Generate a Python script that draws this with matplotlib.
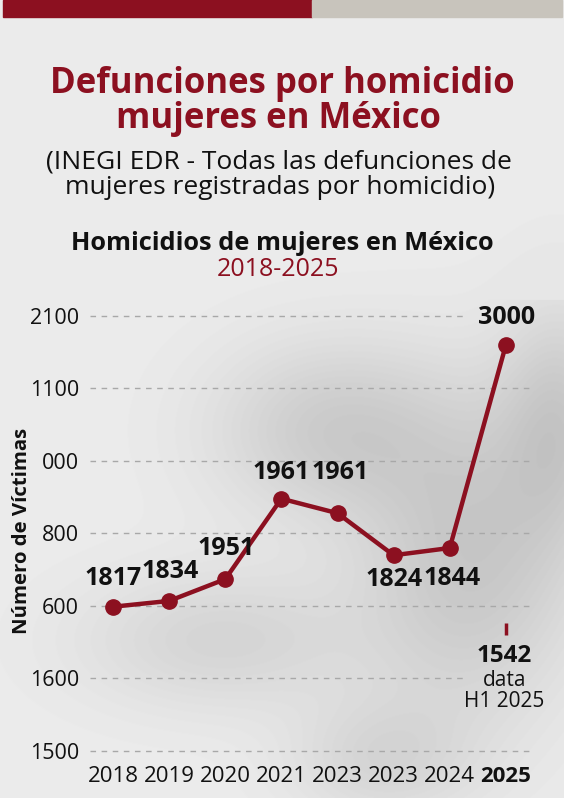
import numpy as np
import matplotlib.pyplot as plt
from matplotlib.patches import Rectangle

plt.rcParams['font.family'] = ['Open Sans', 'DejaVu Sans']

# data
years = ['2018', '2019', '2020', '2021', '2023', '2023', '2024', '2025']
plot_vals = [1699, 1707, 1737, 1848, 1828, 1770, 1780, 2060]
point_labels = ['1817', '1834', '1951', '1961', '1961', '1824', '1844', '3000']
h1_val = 1668
h1_label = '1542'
y_ticks = [1500, 1600, 1700, 1800, 1900, 2000, 2100]
y_tick_labels = ['1500', '1600', '600', '800', '000', '1100', '2100']

RED = '#8c1020'
W, H = 564, 798

fig = plt.figure(figsize=(W / 100, H / 100), dpi=100)

# blurred photo-like background
yy, xx = np.mgrid[0:H, 0:W]
bg = np.full((H, W), 0.925)
for cx, cy, sx, sy, d in [(330, 430, 120, 90, 0.12), (470, 560, 110, 160, 0.14),
                          (220, 640, 140, 70, 0.09), (560, 420, 60, 120, 0.12),
                          (380, 760, 90, 60, 0.08)]:
    bg -= d * np.exp(-(((xx - cx) / sx) ** 2 + ((yy - cy) / sy) ** 2))
bg[:300] = np.maximum(bg[:300], 0.925 - 0.02 * (yy[:300] / 300))
bga = fig.add_axes([0, 0, 1, 1], zorder=-10)
bga.imshow(bg, cmap='gray', vmin=0, vmax=1, aspect='auto')
bga.axis('off')

# top bars
fig.patches.append(Rectangle((3 / W, 1 - 17 / H), 309 / W, 17 / H,
                             transform=fig.transFigure, color=RED))
fig.patches.append(Rectangle((312 / W, 1 - 17 / H), 250 / W, 17 / H,
                             transform=fig.transFigure, color='#c8c4bc'))


def ftext(x, y, s, **kw):
    fig.text(x / W, 1 - y / H, s, ha='center', va='center', **kw)


ftext(282, 84, 'Defunciones por homicidio', fontsize=25, fontweight='bold', color=RED)
ftext(278, 119, 'mujeres en México', fontsize=25, fontweight='bold', color=RED)
ftext(279, 162, '(INEGI EDR - Todas las defunciones de', fontsize=19, color='#111111')
ftext(280, 187, 'mujeres registradas por homicidio)', fontsize=19, color='#111111')
ftext(282, 243, 'Homicidios de mujeres en México', fontsize=18.3, fontweight='bold', color='#111111')
ftext(278, 269, '2018-2025', fontsize=18, color=RED)

# chart
ax = fig.add_axes([90 / W, 47 / H, 440 / W, 435 / H])
ax.set_facecolor('none')
x = np.arange(len(years))
ax.set_xlim(-0.41, 7.43)
ax.set_ylim(1500, 2100)

grid_ends = {2100: 0.848, 1600: 0.848}
for t in y_ticks:
    ax.axhline(t, xmin=0, xmax=grid_ends.get(t, 1.0), color='#a8a8a8',
               lw=1, ls=(0, (4, 4)), zorder=1, clip_on=False)

ax.plot(x, plot_vals, color=RED, lw=3.2, marker='o', markersize=11,
        zorder=3, clip_on=False)

offsets = [(0, 28), (1, 29), (1, 31), (0, 26), (3, 41), (0, -24), (2, -31), (1, 27)]
for xi, v, lab, off in zip(x, plot_vals, point_labels, offsets):
    ax.annotate(lab, (xi, v), xytext=off, textcoords='offset pixels',
                ha='center', va='center', fontsize=18, fontweight='bold',
                color='#111111', zorder=4)

ax.plot([x[-1]], [h1_val], marker='|', markersize=8, mew=2.5, color=RED,
        clip_on=False, zorder=3)
ax.annotate(h1_label, (x[-1], h1_val), xytext=(-2, -27), textcoords='offset pixels',
            ha='center', va='center', fontsize=17.5, fontweight='bold', color='#111111')
ax.annotate('data', (x[-1], h1_val), xytext=(-1, -51), textcoords='offset pixels',
            ha='center', va='center', fontsize=15, color='#111111')
ax.annotate('H1 2025', (x[-1], h1_val), xytext=(-2, -72), textcoords='offset pixels',
            ha='center', va='center', fontsize=15, color='#111111')

ax.set_yticks(y_ticks)
ax.set_yticklabels(y_tick_labels, fontsize=15.5, color='#111111')
ax.set_xticks(x)
ax.set_xticklabels(years, fontsize=16, color='#111111')
ax.get_xticklabels()[-1].set_fontweight('bold')
ax.tick_params(length=0, axis='y', pad=8)
ax.tick_params(length=0, axis='x', pad=11)
for s in ax.spines.values():
    s.set_visible(False)

fig.text(22 / W, 1 - 531 / H, 'Número de Víctimas', rotation=90, ha='center',
         va='center', fontsize=14.7, fontweight='bold', color='#111111')

fig.savefig('out.png', dpi=100)
